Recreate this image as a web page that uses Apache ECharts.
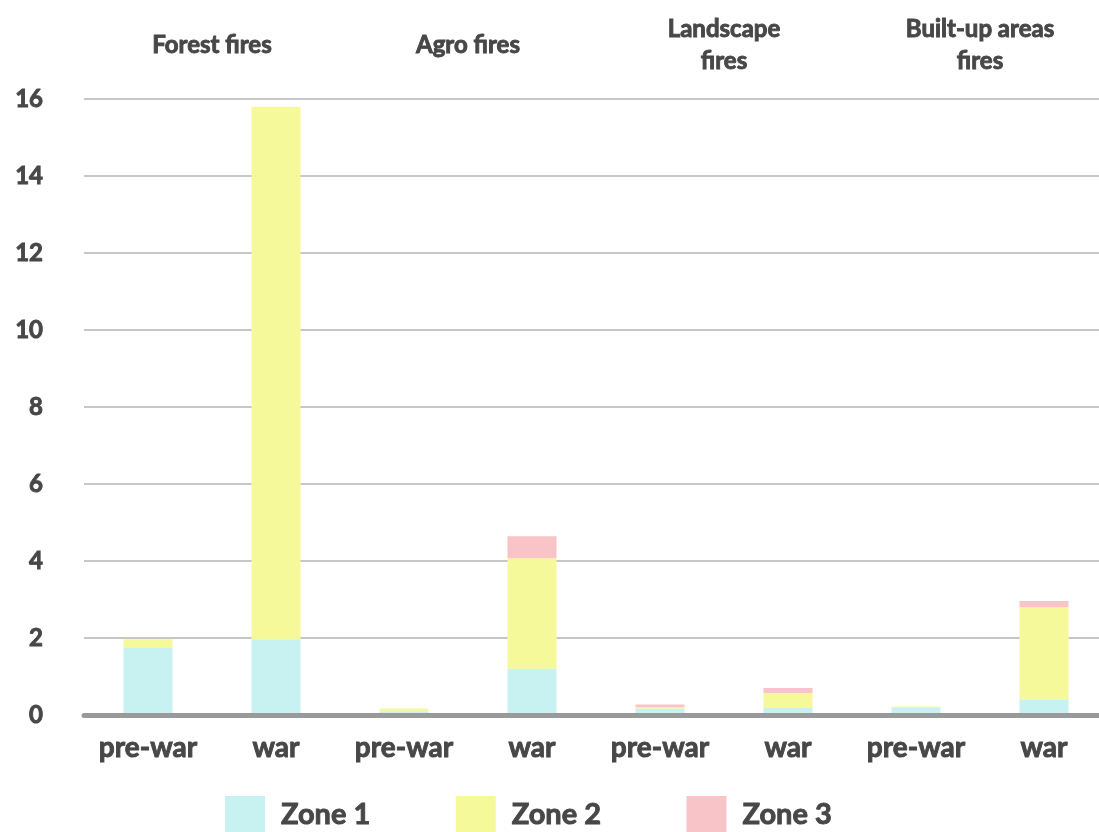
<!DOCTYPE html>
<html>
<head>
<meta charset="utf-8">
<script src="https://cdn.jsdelivr.net/npm/echarts@6/dist/echarts.min.js"></script>
<style>
  html, body { margin: 0; padding: 0; background: #fff; }
  #chart { width: 1099px; height: 832px; }
</style>
</head>
<body>
<div id="chart"></div>
<script>
// categories
const periods = ['pre-war', 'war', 'pre-war', 'war', 'pre-war', 'war', 'pre-war', 'war'];
const fireTypes = ['Forest fires', 'Agro fires', 'Landscape\nfires', 'Built-up areas\nfires'];
const yTicks = [0, 2, 4, 6, 8, 10, 12, 14, 16];

// series values
const zone1 = [1.74, 1.97, 0.10, 1.20, 0.17, 0.19, 0.20, 0.41];
const zone2 = [0.23, 13.83, 0.07, 2.87, 0.03, 0.38, 0.02, 2.39];
const zone3 = [0, 0, 0, 0.57, 0.07, 0.13, 0, 0.16];

const font = 'Lato, "Noto Sans", sans-serif';
const textColor = '#474747';

// Lato heavy is not installed, so thicken bold text with a thin outline
const heavyText = (size) => ({
  fontSize: size,
  fontWeight: 'bold',
  fontFamily: font,
  color: textColor,
  textBorderColor: textColor,
  textBorderWidth: 0.9
});

const chart = echarts.init(document.getElementById('chart'));

const makeSeries = (name, data, color) => ({
  name: name,
  type: 'bar',
  stack: 'total',
  data: data,
  barWidth: 49,
  itemStyle: { color: color },
  emphasis: { disabled: true }
});

const option = {
  animation: false,
  textStyle: { fontFamily: font },
  grid: { left: 84, width: 1024, top: 99, bottom: 117, containLabel: false, outerBoundsMode: 'none' },
  legend: {
    left: 220,
    top: 791,
    itemWidth: 40,
    itemHeight: 37,
    itemGap: 85,
    icon: 'rect',
    textStyle: Object.assign(heavyText(29), { padding: [3, 0, 0, 11] }),
    data: ['Zone 1', 'Zone 2', 'Zone 3']
  },
  xAxis: [
    {
      type: 'category',
      data: periods,
      position: 'bottom',
      z: 5,
      axisLine: { lineStyle: { color: '#999', width: 5 } },
      axisTick: { show: false },
      axisLabel: Object.assign(heavyText(28), { margin: 19 })
    },
    {
      type: 'category',
      data: fireTypes,
      position: 'top',
      axisLine: { show: false },
      axisTick: { show: false },
      axisLabel: Object.assign(heavyText(24), { margin: 54, verticalAlign: 'middle', lineHeight: 32 })
    }
  ],
  yAxis: {
    type: 'value',
    min: yTicks[0],
    max: yTicks[yTicks.length - 1],
    interval: 2,
    axisLine: { show: false },
    axisTick: { show: false },
    splitLine: { lineStyle: { color: '#b5b5b5', width: 1.5 } },
    axisLabel: Object.assign(heavyText(24), { margin: 41 })
  },
  series: [
    makeSeries('Zone 1', zone1, '#c8f2f2'),
    makeSeries('Zone 2', zone2, '#f5f99a'),
    makeSeries('Zone 3', zone3, '#f9c4c8')
  ]
};

chart.setOption(option);
</script>
</body>
</html>
